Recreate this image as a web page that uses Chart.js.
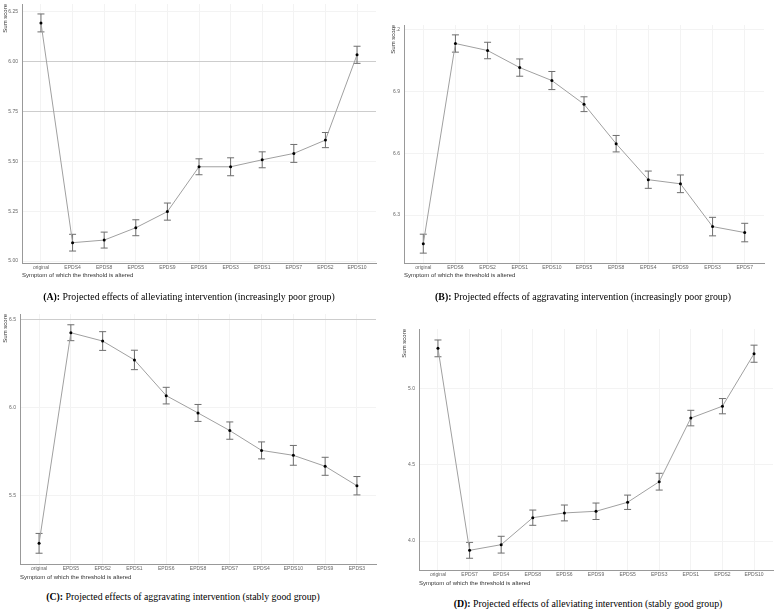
<!DOCTYPE html>
<html>
<head>
<meta charset="utf-8">
<script src="https://cdn.jsdelivr.net/npm/chart.js@4.4.1/dist/chart.umd.min.js"></script>
<style>
  body { margin: 0; background: #fff; width: 778px; height: 610px; position: relative; overflow: hidden; }
  canvas { position: absolute; }
  .cap { position: absolute; font-family: "Liberation Serif", "Times New Roman", serif; font-size: 9.8px;
         line-height: 11px; color: #000; white-space: nowrap; transform: translate(-50%, -50%); }
</style>
</head>
<body>
<canvas id="cA"></canvas>
<canvas id="cB"></canvas>
<canvas id="cC"></canvas>
<canvas id="cD"></canvas>
<div class="cap" style="left:189px;top:296px"><b>(A):</b> Projected effects of alleviating intervention (increasingly poor group)</div>
<div class="cap" style="left:583px;top:296px"><b>(B):</b> Projected effects of aggravating intervention (increasingly poor group)</div>
<div class="cap" style="left:183px;top:596px"><b>(C):</b> Projected effects of aggravating intervention (stably good group)</div>
<div class="cap" style="left:588px;top:603px"><b>(D):</b> Projected effects of alleviating intervention (stably good group)</div>
<script>
// ── Data ───────────────────────────────────────────────────
const catsA  = ["original", "EPDS4", "EPDS8", "EPDS5", "EPDS9", "EPDS6", "EPDS3", "EPDS1", "EPDS7", "EPDS2", "EPDS10"];
const valsA  = [6.195, 5.092, 5.105, 5.167, 5.248, 5.473, 5.473, 5.508, 5.540, 5.607, 6.035];
const errsA  = [0.045, 0.042, 0.040, 0.040, 0.043, 0.040, 0.045, 0.040, 0.045, 0.038, 0.043];
const ticksA = [5.00, 5.25, 5.50, 5.75, 6.00, 6.25];

const catsB  = ["original", "EPDS6", "EPDS2", "EPDS1", "EPDS10", "EPDS5", "EPDS8", "EPDS4", "EPDS9", "EPDS3", "EPDS7"];
const valsB  = [6.161, 7.134, 7.100, 7.017, 6.954, 6.839, 6.647, 6.472, 6.452, 6.244, 6.215];
const errsB  = [0.046, 0.042, 0.040, 0.042, 0.044, 0.036, 0.040, 0.042, 0.043, 0.045, 0.045];
const ticksB = [6.3, 6.6, 6.9, 7.2];

const catsC  = ["original", "EPDS5", "EPDS2", "EPDS1", "EPDS6", "EPDS8", "EPDS7", "EPDS4", "EPDS10", "EPDS9", "EPDS3"];
const valsC  = [5.232, 6.424, 6.377, 6.270, 6.068, 5.970, 5.870, 5.758, 5.730, 5.668, 5.558];
const errsC  = [0.056, 0.045, 0.053, 0.055, 0.047, 0.048, 0.049, 0.048, 0.056, 0.051, 0.052];
const ticksC = [5.5, 6.0, 6.5];

const catsD  = ["original", "EPDS7", "EPDS4", "EPDS8", "EPDS6", "EPDS9", "EPDS5", "EPDS3", "EPDS1", "EPDS2", "EPDS10"];
const valsD  = [5.263, 3.939, 3.976, 4.153, 4.184, 4.195, 4.254, 4.389, 4.806, 4.884, 5.228];
const errsD  = [0.055, 0.052, 0.055, 0.050, 0.052, 0.054, 0.047, 0.055, 0.051, 0.050, 0.056];
const ticksD = [4.0, 4.5, 5.0];

// ── Panel layout (canvas box + wanted plot area) ───────────
const panels = [
  { id: "cA", cats: catsA, vals: valsA, errs: errsA, ticks: ticksA, digits: 2, min: 4.99, max: 6.29,
    x: 0, y: 0, w: 384, h: 282, l: 22, t: 3, r: 376, b: 263, strong: [5.75, 6.00] },
  { id: "cB", cats: catsB, vals: valsB, errs: errsB, ticks: ticksB, digits: 1, min: 6.067, max: 7.224,
    x: 388, y: 0, w: 384, h: 282, l: 404, t: 25, r: 764, b: 263, strong: [] },
  { id: "cC", cats: catsC, vals: valsC, errs: errsC, ticks: ticksC, digits: 1, min: 5.115, max: 6.53,
    x: 0, y: 300, w: 384, h: 284, l: 20, t: 314, r: 376, b: 564, strong: [6.5] },
  { id: "cD", cats: catsD, vals: valsD, errs: errsD, ticks: ticksD, digits: 1, min: 3.81, max: 5.39,
    x: 399, y: 310, w: 379, h: 280, l: 419, t: 329, r: 773, b: 570, strong: [] },
];

// ── Error bars ─────────────────────────────────────────────
const errorBars = {
  id: "errorBars",
  beforeDatasetsDraw(chart) {
    const { ctx, scales: { x, y } } = chart;
    const ds = chart.data.datasets[0];
    ctx.save();
    ctx.strokeStyle = "#6e6e6e";
    ctx.lineWidth = 1;
    ds.data.forEach((d, i) => {
      const px = x.getPixelForValue(d.x);
      const hi = y.getPixelForValue(d.y + ds.errs[i]);
      const lo = y.getPixelForValue(d.y - ds.errs[i]);
      ctx.beginPath();
      ctx.moveTo(px, hi); ctx.lineTo(px, lo);
      ctx.moveTo(px - 3.5, hi); ctx.lineTo(px + 3.5, hi);
      ctx.moveTo(px - 3.5, lo); ctx.lineTo(px + 3.5, lo);
      ctx.stroke();
    });
    ctx.restore();
  },
};

function makePanel(p) {
  const cv = document.getElementById(p.id);
  cv.width = p.w; cv.height = p.h;
  cv.style.left = p.x + "px"; cv.style.top = p.y + "px";
  const yAxisW = p.l - p.x;
  const xAxisH = p.y + p.h - p.b;

  new Chart(cv, {
    type: "line",
    data: {
      datasets: [{
        data: p.vals.map((v, i) => ({ x: i, y: v })),
        errs: p.errs,
        borderColor: "#a0a0a0",
        borderWidth: 1,
        pointRadius: 1.5,
        pointBackgroundColor: "#000",
        pointBorderWidth: 0,
        tension: 0,
      }],
    },
    options: {
      responsive: false,
      animation: false,
      events: [],
      layout: { padding: { left: 0, top: p.t - p.y, right: p.x + p.w - p.r, bottom: 0 } },
      plugins: { legend: { display: false }, tooltip: { enabled: false } },
      scales: {
        x: {
          type: "linear",
          min: -0.6,
          max: p.cats.length - 0.4,
          afterBuildTicks: (s) => { s.ticks = p.cats.map((c, i) => ({ value: i })); },
          afterFit: (s) => { s.height = xAxisH; s.paddingLeft = 0; s.paddingRight = 0; },
          ticks: {
            callback: (v) => p.cats[v],
            font: { family: "Arial", size: 5 },
            color: "#666",
            padding: 2,
            maxRotation: 0,
            autoSkip: false,
          },
          grid: { color: "#f3f3f3", drawTicks: false },
          border: { color: "#999" },
          title: {
            display: true,
            text: "Symptom of which the threshold is altered",
            align: "start",
            font: { family: "Arial", size: 6 },
            color: "#333",
            padding: { top: 0, bottom: 3 },
          },
        },
        y: {
          min: p.min,
          max: p.max,
          afterBuildTicks: (s) => { s.ticks = p.ticks.map((v) => ({ value: v })); },
          afterFit: (s) => { s.width = yAxisW; s.paddingTop = 0; s.paddingBottom = 0; },
          ticks: {
            callback: (v) => Number(v).toFixed(p.digits),
            font: { family: "Arial", size: 5 },
            color: "#666",
            padding: 4,
          },
          grid: {
            color: (c) => (c.tick && p.strong.includes(c.tick.value) ? "#cdcdcd" : "#f3f3f3"),
            drawTicks: false,
          },
          border: { color: "#999" },
          title: {
            display: true,
            text: "Sum score",
            align: "end",
            font: { family: "Arial", size: 6 },
            color: "#333",
            padding: { top: 2, bottom: 0 },
          },
        },
      },
    },
    plugins: [errorBars],
  });
}

panels.forEach(makePanel);
</script>
</body>
</html>
